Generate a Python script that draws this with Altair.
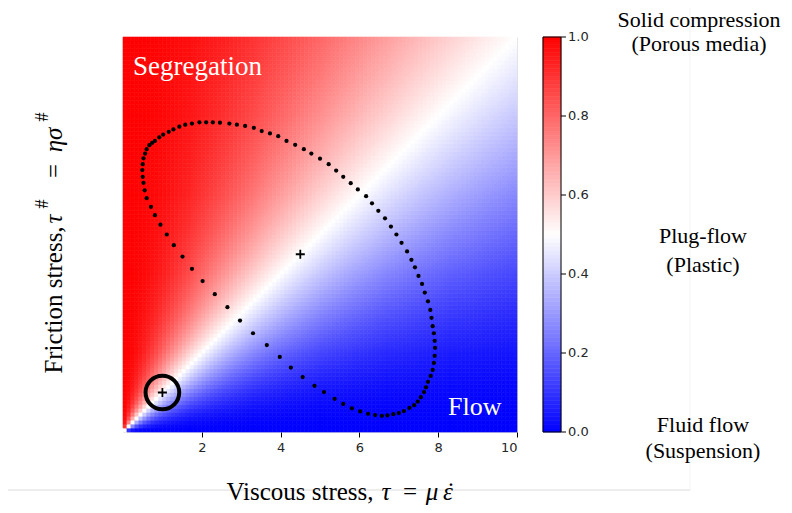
import numpy as np
import pandas as pd
import altair as alt

# ---------------- data ----------------
# axis ticks
x_ticks = [2, 4, 6, 8, 10]
y_ticks = [2, 4, 6, 8, 10]
cbar_ticks = [0.0, 0.2, 0.4, 0.6, 0.8, 1.0]
cbar_labels = ["0.0", "0.2", "0.4", "0.6", "0.8", "1.0"]

# background field: share of friction stress  tau#^2 / (tau^2 + tau#^2)
grid_n = 100
grid_edges = np.linspace(0.0, 10.0, grid_n + 1)

# dotted ellipse (viscous, friction)
ellipse_x = [1.11, 0.95, 0.81, 0.71, 0.60, 0.55, 0.52, 0.50, 0.49, 0.50, 0.52, 0.56, 0.60,
             0.67, 0.74, 0.81, 0.92, 1.02, 1.16, 1.28, 1.43, 1.58, 1.75, 1.94, 2.11, 2.28,
             2.46, 2.70, 2.89, 3.10, 3.32, 3.52, 3.73, 3.94, 4.15, 4.37, 4.59, 4.78, 5.00,
             5.22, 5.41, 5.59, 5.78, 5.96, 6.17, 6.32, 6.48, 6.65, 6.80, 6.94, 7.07, 7.21,
             7.32, 7.41, 7.50, 7.59, 7.66, 7.74, 7.80, 7.83, 7.86, 7.89, 7.91, 7.92, 7.91,
             7.89, 7.86, 7.81, 7.74, 7.69, 7.64, 7.56, 7.48, 7.39, 7.27, 7.13, 7.00, 6.86,
             6.71, 6.57, 6.40, 6.22, 6.02, 5.81, 5.59, 5.37, 5.10, 4.86, 4.56, 4.26, 3.98,
             3.65, 3.30, 2.97, 2.65, 2.33, 2.02, 1.75, 1.51, 1.29]
ellipse_y = [5.00, 5.25, 5.49, 5.70, 5.92, 6.12, 6.31, 6.46, 6.63, 6.78, 6.93, 7.05, 7.16,
             7.26, 7.32, 7.37, 7.46, 7.53, 7.60, 7.66, 7.73, 7.78, 7.81, 7.84, 7.84, 7.84,
             7.83, 7.81, 7.78, 7.75, 7.70, 7.62, 7.56, 7.49, 7.37, 7.27, 7.16, 7.05, 6.92,
             6.78, 6.62, 6.46, 6.30, 6.14, 5.97, 5.79, 5.60, 5.41, 5.20, 5.00, 4.79, 4.57,
             4.36, 4.17, 3.95, 3.75, 3.53, 3.31, 3.09, 2.89, 2.68, 2.50, 2.31, 2.13, 1.93,
             1.75, 1.57, 1.42, 1.27, 1.13, 1.01, 0.88, 0.77, 0.68, 0.61, 0.53, 0.48, 0.45,
             0.42, 0.41, 0.43, 0.46, 0.52, 0.60, 0.71, 0.84, 1.01, 1.17, 1.39, 1.63, 1.90,
             2.20, 2.50, 2.82, 3.16, 3.49, 3.82, 4.13, 4.44, 4.73]

circle_x = [1.0]
circle_y = [1.0]
plus_x = [1.0, 4.5]
plus_y = [1.0, 4.5]

# ---------------- tables ----------------
gx0, gy0 = np.meshgrid(grid_edges[:-1], grid_edges[:-1])
gx1, gy1 = np.meshgrid(grid_edges[1:], grid_edges[1:])
gxc = (gx0 + gx1) / 2
gyc = (gy0 + gy1) / 2
heat = pd.DataFrame({
    "x0": gx0.ravel(), "x1": gx1.ravel(),
    "y0": gy0.ravel(), "y1": gy1.ravel(),
    "v": (gyc ** 2 / (gxc ** 2 + gyc ** 2)).ravel(),
})

cb_edges = np.linspace(0.0, 1.0, 101)
cbar = pd.DataFrame({
    "c0": cb_edges[:-1] * 10, "c1": cb_edges[1:] * 10,
    "cv": (cb_edges[:-1] + cb_edges[1:]) / 2,
})
cbar_tick_df = pd.DataFrame({"ty": [t * 10 for t in cbar_ticks], "lab": cbar_labels})
ellipse = pd.DataFrame({"x": ellipse_x, "y": ellipse_y})
circle = pd.DataFrame({"x": circle_x, "y": circle_y})
plus = pd.DataFrame({"x": plus_x, "y": plus_y})

# ---------------- scales ----------------
SERIF = "Liberation Serif"
SANS = "DejaVu Sans"
xs = alt.Scale(domain=[0, 10], nice=False, zero=False)
ys = alt.Scale(domain=[0, 10], nice=False, zero=False)
cs = alt.Scale(domain=[0, 0.5, 1], range=["#0000ff", "#ffffff", "#ff0000"], interpolate="rgb")

xaxis = alt.Axis(values=x_ticks, title=None, grid=False, domain=False, tickSize=5,
                 tickColor="black", labelFont=SANS, labelFontSize=13, labelColor="#262626",
                 labelPadding=4, format="d")
yaxis = alt.Axis(values=y_ticks, title=None, grid=False, domain=False, tickSize=6,
                 tickColor="black", labelFont=SANS, labelFontSize=13, labelColor="#262626",
                 labelPadding=5, format="d")

heat_layer = alt.Chart(heat).mark_rect(strokeWidth=0.6).encode(
    x=alt.X("x0:Q", scale=xs, axis=xaxis), x2="x1:Q",
    y=alt.Y("y0:Q", scale=ys, axis=yaxis), y2="y1:Q",
    fill=alt.Fill("v:Q", scale=cs, legend=None),
    stroke=alt.Stroke("v:Q", scale=cs, legend=None),
)

ellipse_layer = alt.Chart(ellipse).mark_circle(size=18, color="black", opacity=1).encode(
    x=alt.X("x:Q", scale=xs), y=alt.Y("y:Q", scale=ys))

circle_layer = alt.Chart(circle).mark_point(shape="circle", size=1134, filled=False,
                                            strokeWidth=4, color="black", opacity=1).encode(
    x=alt.X("x:Q", scale=xs), y=alt.Y("y:Q", scale=ys))

plus_layer = alt.Chart(plus).mark_point(shape="M-1,0L1,0M0,-1L0,1", size=81, filled=False,
                                        strokeWidth=1.8, color="black", opacity=1).encode(
    x=alt.X("x:Q", scale=xs), y=alt.Y("y:Q", scale=ys))

# colour bar drawn on the shared y scale (value * 10)
cbar_layer = alt.Chart(cbar).mark_rect(strokeWidth=0.6).encode(
    x=alt.value(420), x2=alt.value(438),
    y=alt.Y("c0:Q", scale=ys, axis=None), y2="c1:Q",
    fill=alt.Fill("cv:Q", scale=cs, legend=None),
    stroke=alt.Stroke("cv:Q", scale=cs, legend=None),
)
cbar_frame = alt.Chart(pd.DataFrame({"a": [0.0], "b": [10.0]})).mark_rect(
    fill=None, stroke="black", strokeWidth=1).encode(
    x=alt.value(420), x2=alt.value(438),
    y=alt.Y("a:Q", scale=ys, axis=None), y2="b:Q")
cbar_tick_marks = alt.Chart(cbar_tick_df).mark_rule(color="black", strokeWidth=1).encode(
    x=alt.value(438), x2=alt.value(443), y=alt.Y("ty:Q", scale=ys, axis=None))
cbar_tick_text = alt.Chart(cbar_tick_df).mark_text(
    align="left", baseline="middle", font=SANS, fontSize=13, color="#262626").encode(
    x=alt.value(445), y=alt.Y("ty:Q", scale=ys, axis=None), text="lab:N")


def label(text, x, y, size=24, color="black", italic=False, angle=0, align="center",
          baseline="alphabetic", font=SERIF):
    return alt.Chart(pd.DataFrame({"t": [text]})).mark_text(
        align=align, baseline=baseline, font=font, fontSize=size, color=color,
        fontStyle="italic" if italic else "normal", angle=angle).encode(
        x=alt.value(x), y=alt.value(y), text="t:N")


texts = [
    label("Segregation", 10, 38, size=27, color="white", align="left"),
    label("Flow", 325, 378, size=26, color="white", align="left"),
    label("Solid compression", 576, -10, size=22),
    label("(Porous media)", 576, 14, size=22),
    label("Plug-flow", 580, 206, size=22),
    label("(Plastic)", 580, 235, size=22),
    label("Fluid flow", 580, 395, size=22),
    label("(Suspension)", 580, 421, size=22),
    # x title
    label("Viscous stress,", 177, 463, size=25),
    label("τ", 263, 463, size=25, italic=True),
    label("=", 287, 463, size=25),
    label("μ", 309, 463, size=25, italic=True),
    label("ε", 325, 463, size=25, italic=True),
    label("˙", 328, 463, size=25),
    # y title (rotated)
    label("Friction stress,", -61, 263, size=25, angle=270),
    label("τ", -61, 182, size=25, angle=270, italic=True),
    label("#", -75, 167, size=18, angle=270),
    label("=", -61, 134, size=25, angle=270),
    label("ησ", -61, 103, size=25, angle=270, italic=True),
    label("#", -75, 80, size=18, angle=270),
]

edge_h = alt.Chart(pd.DataFrame({"k": [0]})).mark_rule(color="#dcdcdc", strokeWidth=1).encode(
    x=alt.value(-123), x2=alt.value(567), y=alt.value(453))
edge_v = alt.Chart(pd.DataFrame({"k": [0]})).mark_rule(color="#f3f3f3", strokeWidth=1).encode(
    x=alt.value(567), y=alt.value(-37), y2=alt.value(453))

chart = alt.layer(
    heat_layer, ellipse_layer, circle_layer, plus_layer,
    cbar_layer, cbar_frame, cbar_tick_marks, cbar_tick_text,
    edge_h, edge_v, *texts,
).properties(
    width=394, height=395,
    autosize=alt.AutoSizeParams(type="none"),
    padding={"left": 115, "top": 29, "right": 267, "bottom": 73},
).configure_view(
    stroke="black", strokeWidth=1,
).configure(background="white")

chart.save("out.html", embed_options={"renderer": "svg", "actions": False})
